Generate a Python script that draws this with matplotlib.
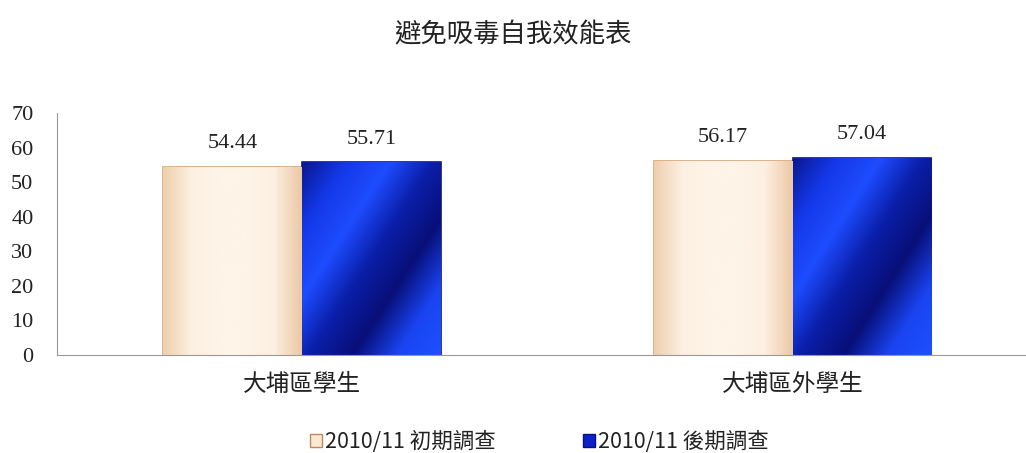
import matplotlib
matplotlib.use("Agg")
import matplotlib.pyplot as plt
import numpy as np
from matplotlib.patches import Patch
from matplotlib.colors import LinearSegmentedColormap

categories = ["大埔區學生", "大埔區外學生"]
series_names = ["2010/11 初期調查", "2010/11 後期調查"]
early = [54.44, 56.17]
late = [55.71, 57.04]
yticks = [0, 10, 20, 30, 40, 50, 60, 70]

cjk = ["Noto Sans CJK TC", "DejaVu Sans"]
serif = ["Liberation Serif", "DejaVu Serif"]

fig = plt.figure(figsize=(10.26, 4.53), dpi=100)
ax = fig.add_axes([0.0556, 0.2163, 0.944, 0.5343])

x = np.arange(len(categories))
w = 0.283
b1 = ax.bar(x - w / 2, early, w, color="#fef3e6", edgecolor="#d8a476", linewidth=1.2, zorder=2)
b2 = ax.bar(x + w / 2, late, w, color="#0a22c8", edgecolor="#0a1680", linewidth=1.2, zorder=2)

# diagonal sheen on blue bars
nx, ny = 200, 200
X, Y = np.meshgrid(np.linspace(0, 1, nx), np.linspace(0, 1, ny))
d = (X - Y * 0.9)
cmap = LinearSegmentedColormap.from_list("b", ["#0a1890", "#1438e8", "#1e4cff", "#0a1ea8", "#080f78", "#1a44f0", "#1e50ff"])
for r in b2:
    x0, y0 = r.get_x(), r.get_y()
    ww, hh = r.get_width(), r.get_height()
    im = ax.imshow(d, extent=[x0, x0 + ww, y0, y0 + hh], origin="lower", aspect="auto",
                   cmap=cmap, zorder=2.5)
    im.set_clip_path(r)
# soft bevel on cream bars
cmap2 = LinearSegmentedColormap.from_list("c", ["#efcfae", "#fdf0e2", "#fef4e8", "#fef4e8", "#fdf0e2", "#ecc9a6"])
for r in b1:
    x0, y0 = r.get_x(), r.get_y()
    ww, hh = r.get_width(), r.get_height()
    im = ax.imshow(np.linspace(0, 1, 100)[None, :], extent=[x0, x0 + ww, y0, y0 + hh], origin="lower",
                   aspect="auto", cmap=cmap2, zorder=2.5)
    im.set_clip_path(r)

for bars, vals in ((b1, early), (b2, late)):
    for r, v in zip(bars, vals):
        ax.text(r.get_x() + r.get_width() / 2, v + 4.0, f"{v:.2f}", ha="center", va="bottom",
                fontsize=16, family=serif, color="#222222")

ax.set_xlim(-0.499, 1.475)
ax.set_ylim(0, 70)
ax.set_yticks(yticks)
ax.set_yticklabels([str(t) for t in yticks], family=serif, fontsize=16, color="#222222")
ax.set_xticks(x)
ax.set_xticklabels(categories, family=cjk, fontsize=17, color="#222222")
ax.tick_params(axis="both", length=0)
ax.tick_params(axis="y", pad=17)
ax.tick_params(axis="x", pad=13)
for s in ("top", "right"):
    ax.spines[s].set_visible(False)
ax.spines["left"].set_color("#999999")
ax.spines["bottom"].set_color("#999999")

fig.text(0.5, 0.922, "避免吸毒自我效能表", ha="center", va="center", fontsize=19, family=cjk, color="#222222")

handles = [Patch(facecolor="#fbe9d4", edgecolor="#c08858"), Patch(facecolor="#0a22c8", edgecolor="#061080")]
leg = fig.legend(handles, series_names, loc="center", bbox_to_anchor=(0.526, 0.024), ncol=2, frameon=False,
                 handlelength=0.55, handleheight=0.55, handletextpad=0.15, columnspacing=4.05,
                 prop={"family": cjk, "size": 15.5})
for t in leg.get_texts():
    t.set_color("#222222")

fig.savefig("out.png", dpi=100)
